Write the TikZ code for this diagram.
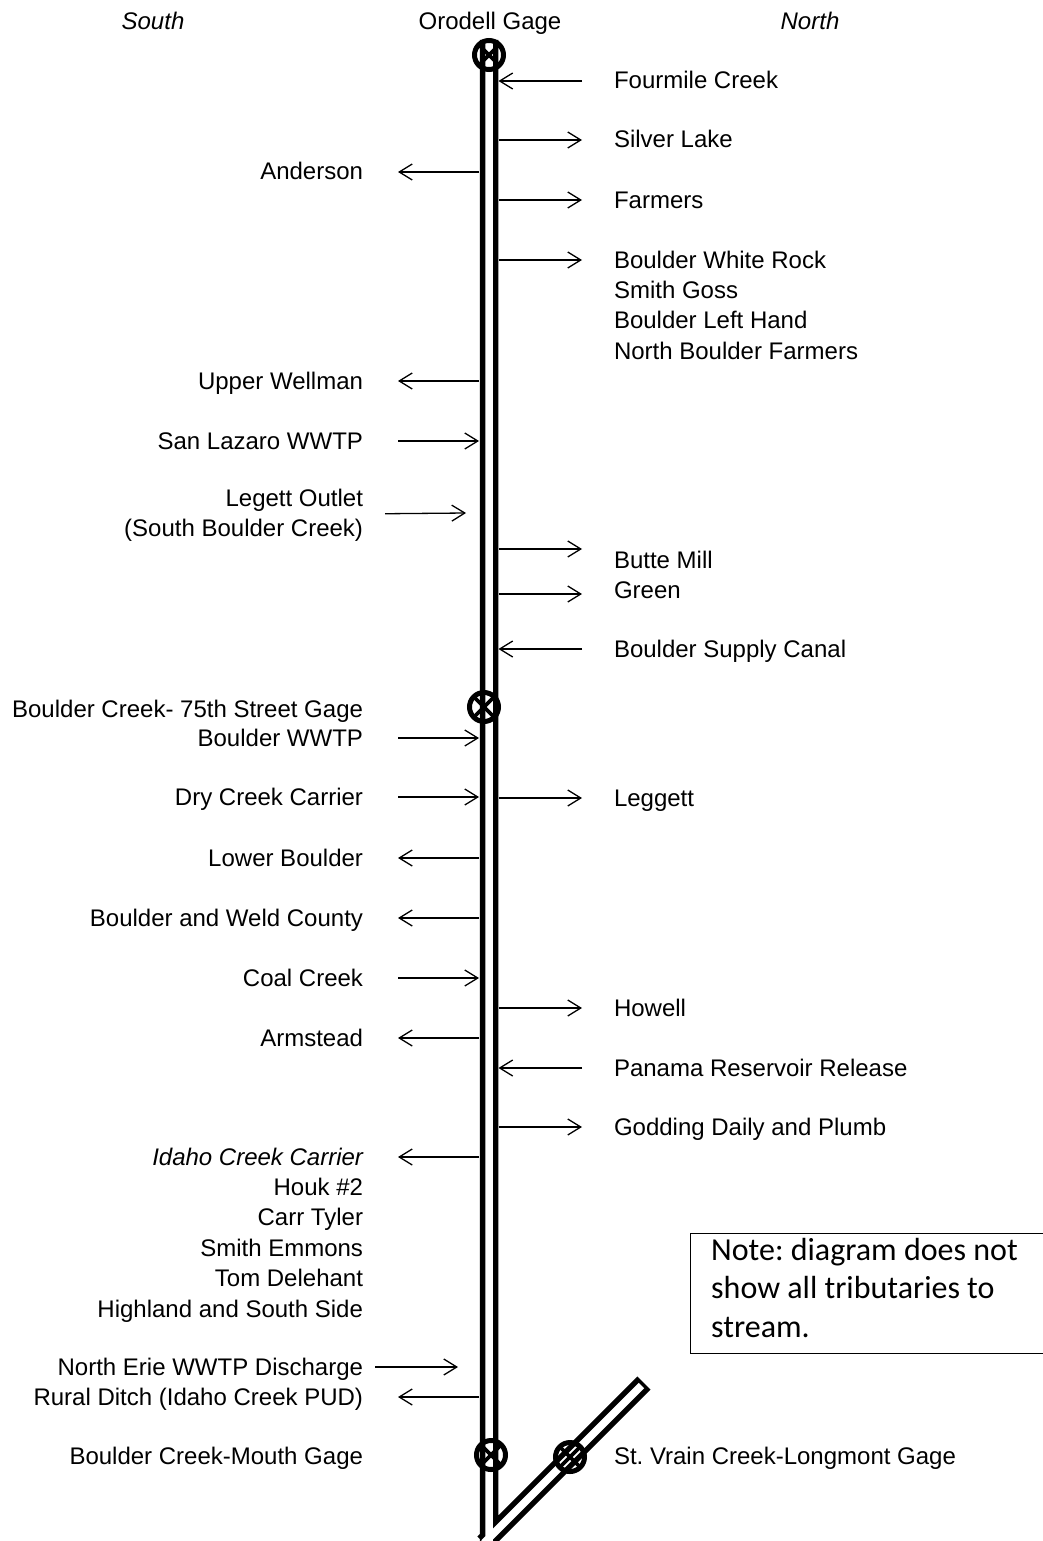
\documentclass[tikz,border=0pt]{standalone}
\usepackage{fontspec}
\setmainfont{Liberation Sans}
\newfontfamily\notefont{Carlito}
\usetikzlibrary{arrows.meta, positioning}
\frenchspacing

\begin{document}
\begin{tikzpicture}[
        x=1pt, y=-1pt,
        node distance=0pt,
        txt/.style={font=\fontsize{24}{30}\selectfont, text height=20pt, text depth=4pt, inner xsep=0pt, inner ysep=3pt},
        southside/.style={txt, anchor=east, outer xsep=35pt},
        northside/.style={txt, anchor=west, outer xsep=32pt},
        bankline/.style={line width=18.5pt},
        waterline/.style={line width=7.5pt, white},
        gage/.style={circle, draw, line width=5pt, minimum size=29pt, inner sep=0pt,
            path picture={\draw[line width=3.8pt] (path picture bounding box.north west) -- (path picture bounding box.south east)
                (path picture bounding box.north east) -- (path picture bounding box.south west);}},
        arrow/.style={line width=1.3pt, -{Straight Barb[length=13pt, width=16pt]}},
        notebox/.style={draw, line width=1.3pt, minimum width=380pt, minimum height=120pt},
        notetext/.style={font=\notefont\fontsize{32}{38.5}\selectfont, align=left, inner xsep=21pt}
    ]
        \useasboundingbox (0,0) rectangle (1042,1541);

        % Stream and St. Vrain branch
        \coordinate (bankL) at (479,0);
        \coordinate (bankR) at (498.5,0);
        \coordinate (streamTop) at (489,40);
        \coordinate (streamEnd) at (489,1545);
        \coordinate (vrainTop) at (644,1383);
        \coordinate (vrainEnd) at (484,1543);
        \draw[bankline] (streamTop) -- (streamEnd) (vrainTop) -- (vrainEnd);
        \draw[waterline] (streamTop) -- (streamEnd) ([shift={(-2.5,2.5)}]vrainTop) -- (vrainEnd);

        % Headings
        \node[txt, font=\fontsize{24}{30}\selectfont\itshape] (south) at (153,22) {South};
        \node[txt] (orodelllbl) at (490,22) {Orodell Gage};
        \node[txt, font=\fontsize{24}{30}\selectfont\itshape] (north) at (810,22) {North};

        % South bank
        \node[southside] (anderson) at (398,172) {Anderson};
        \node[southside] (wellman) at (398,381) {Upper Wellman};
        \node[southside] (lazaro) at (398,441) {San Lazaro WWTP};
        \node[font=\fontsize{24}{30}\selectfont, align=right, anchor=east, inner sep=0pt, outer xsep=22pt] (legett) at (385,515) {Legett Outlet\\(South Boulder Creek)};
        \node[southside] (gage75lbl) at (398,709) {Boulder Creek- 75th Street Gage};
        \node[southside] (boulderwwtp) at (398,738) {Boulder WWTP};
        \node[southside] (drycreek) at (398,797) {Dry Creek Carrier};
        \node[southside] (lowerboulder) at (398,858) {Lower Boulder};
        \node[southside] (weldcounty) at (398,918) {Boulder and Weld County};
        \node[southside] (coalcreek) at (398,978) {Coal Creek};
        \node[southside] (armstead) at (398,1038) {Armstead};
        \node[southside, font=\fontsize{24}{30}\selectfont\itshape] (idaho) at (398,1157) {Idaho Creek Carrier};
        \node[southside, below=of idaho.south east, anchor=north east] (houk) {Houk \#2};
        \node[southside, below=of houk.south east, anchor=north east] (carrtyler) {Carr Tyler};
        \node[southside, below=of carrtyler.south east, anchor=north east] (smithemmons) {Smith Emmons};
        \node[southside, below=of smithemmons.south east, anchor=north east] (delehant) {Tom Delehant};
        \node[southside, below=of delehant.south east, anchor=north east] (highland) {Highland and South Side};
        \node[southside, outer xsep=12pt] (erie) at (375,1367) {North Erie WWTP Discharge};
        \node[southside] (ruralditch) at (398,1397) {Rural Ditch (Idaho Creek PUD)};
        \node[southside] (mouthlbl) at (398,1456) {Boulder Creek-Mouth Gage};

        % North bank
        \node[northside] (fourmile) at (582,81) {Fourmile Creek};
        \node[northside] (silverlake) at (582,140) {Silver Lake};
        \node[northside] (farmers) at (582,200) {Farmers};
        \node[northside] (whiterock) at (582,260) {Boulder White Rock};
        \node[northside, below=of whiterock.south west, anchor=north west] (smithgoss) {Smith Goss};
        \node[northside, below=of smithgoss.south west, anchor=north west] (lefthand) {Boulder Left Hand};
        \node[northside, below=of lefthand.south west, anchor=north west] (nbfarmers) {North Boulder Farmers};
        \node[northside] (buttemill) at (582,560) {Butte Mill};
        \node[northside] (green) at (582,590) {Green};
        \node[northside] (supplycanal) at (582,649) {Boulder Supply Canal};
        \node[northside] (leggett) at (582,798) {Leggett};
        \node[northside] (howell) at (582,1008) {Howell};
        \node[northside] (panama) at (582,1068) {Panama Reservoir Release};
        \node[northside] (godding) at (582,1127) {Godding Daily and Plumb};
        \node[northside] (vrainlbl) at (582,1456) {St. Vrain Creek-Longmont Gage};

        % Note
        \node[notebox, anchor=north west] (notebox) at (690,1233) {};
        \node[notetext, anchor=west, yshift=6pt] (note) at (notebox.west) {Note: diagram does not\\show all tributaries to\\stream.};

        % Arrows, south bank
        \coordinate (legettEnd) at (466,513);
        \coordinate (erieEnd) at (458,1367);
        \draw[arrow] (anderson -| bankL) -- (anderson);
        \draw[arrow] (wellman -| bankL) -- (wellman);
        \draw[arrow] (lazaro) -- (lazaro -| bankL);
        \draw[arrow] (legett) -- (legettEnd);
        \draw[arrow] (boulderwwtp) -- (boulderwwtp -| bankL);
        \draw[arrow] (drycreek) -- (drycreek -| bankL);
        \draw[arrow] (lowerboulder -| bankL) -- (lowerboulder);
        \draw[arrow] (weldcounty -| bankL) -- (weldcounty);
        \draw[arrow] (coalcreek) -- (coalcreek -| bankL);
        \draw[arrow] (armstead -| bankL) -- (armstead);
        \draw[arrow] (idaho -| bankL) -- (idaho);
        \draw[arrow] (erie) -- (erieEnd);
        \draw[arrow] (ruralditch -| bankL) -- (ruralditch);

        % Arrows, north bank
        \coordinate (butteArrow) at (582,549);
        \coordinate (greenArrow) at (582,594);
        \draw[arrow] (fourmile) -- (fourmile -| bankR);
        \draw[arrow] (silverlake -| bankR) -- (silverlake);
        \draw[arrow] (farmers -| bankR) -- (farmers);
        \draw[arrow] (whiterock -| bankR) -- (whiterock);
        \draw[arrow] (butteArrow -| bankR) -- (butteArrow);
        \draw[arrow] (greenArrow -| bankR) -- (greenArrow);
        \draw[arrow] (supplycanal) -- (supplycanal -| bankR);
        \draw[arrow] (leggett -| bankR) -- (leggett);
        \draw[arrow] (howell -| bankR) -- (howell);
        \draw[arrow] (panama) -- (panama -| bankR);
        \draw[arrow] (godding -| bankR) -- (godding);

        % Gages
        \node[gage] (orodell) at (489,55) {};
        \node[gage] (gage75) at (484,707) {};
        \node[gage] (mouth) at (491,1455) {};
        \node[gage] (vrain) at (570,1457) {};
    \end{tikzpicture}
\end{document}
